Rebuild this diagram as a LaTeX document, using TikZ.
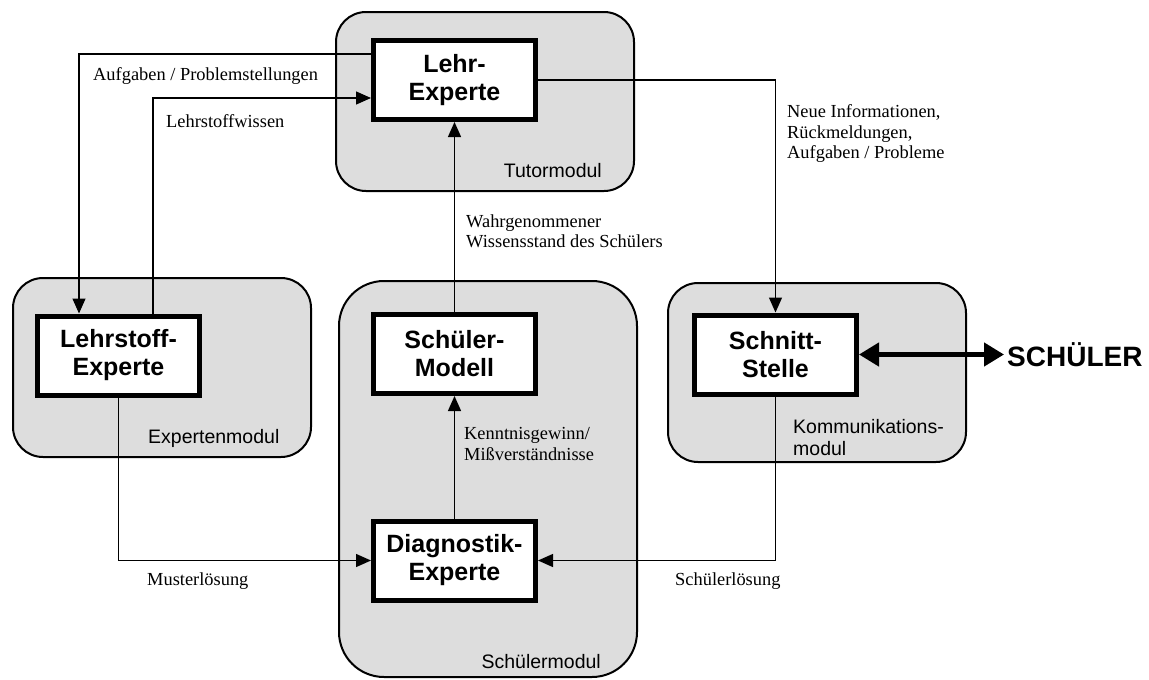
\documentclass[tikz,border=0pt]{standalone}
\usepackage{fontspec}
\setmainfont{Liberation Serif}
\setsansfont{Liberation Sans}
\usetikzlibrary{arrows.meta}
\definecolor{modgray}{RGB}{221,221,221}
\tikzset{
  module/.style={draw, line width=2pt, fill=modgray, rounded corners=30pt,
    inner sep=0pt, minimum width=298pt, minimum height=179pt},
  expert/.style={draw, line width=5pt, fill=white, inner sep=0pt,
    minimum width=162pt, minimum height=79pt, align=center,
    font=\sffamily\bfseries\fontsize{25}{28}\selectfont},
  modlabel/.style={inner sep=0pt, font=\sffamily\fontsize{19.5}{22}\selectfont},
  flowlabel/.style={inner sep=0pt, align=left, font=\rmfamily\fontsize{18.4}{20.5}\selectfont},
  conn/.style={line width=1.3pt},
  flow/.style={conn, -{Triangle[length=15pt,width=13pt]}},
  bothway/.style={line width=4.5pt, {Triangle[length=20pt,width=23pt]}-{Triangle[length=20pt,width=23pt]}}
}
\begin{document}
\begin{tikzpicture}[x=1pt,y=-1pt]
\useasboundingbox (0,0) rectangle (1149,680);

% module containers
\node[module] (tutor) at (485,101.5) {};
\node[module] (expmod) at (162,367.5) {};
\node[module, minimum height=396pt, rounded corners=45pt] (stumod) at (488,479) {};
\node[module] (kommod) at (817,372.5) {};

\node[modlabel, anchor=base east] (tutorlab) at (602,177) {Tutormodul};
\node[modlabel, anchor=base west] (explab) at (148,443) {Expertenmodul};
\node[modlabel, anchor=base east] (stulab) at (601,668) {Schülermodul};
\node[modlabel, anchor=north west, align=left] (komlab) at (793,419) {Kommunikations-\\modul};

% expert boxes
\node[expert] (le) at (454.5,80) {Lehr-\\Experte};
\node[expert] (lse) at (118.5,355.5) {Lehrstoff-\\Experte};
\node[expert] (smo) at (454.5,354) {Schüler-\\Modell};
\node[expert] (de) at (454.5,560.5) {Diagnostik-\\Experte};
\node[expert] (ss) at (775.5,354.5) {Schnitt-\\Stelle};

\node[inner sep=3pt, anchor=west, font=\sffamily\bfseries\fontsize{28}{32}\selectfont] (sch) at (1004,354.5) {SCHÜLER};

% connectors
\draw[flow] ([yshift=26pt]le.west) -| ([xshift=-39.5pt]lse.north);
\draw[flow] ([xshift=34.5pt]lse.north) |- ([yshift=-18pt]le.west);
\draw[flow] (le.east) -| (ss.north);
\draw[flow] (smo.north) -- (le.south);
\draw[flow] (de.north) -- (smo.south);
\draw[flow] (lse.south) |- (de.west);
\draw[flow] (ss.south) |- (de.east);
\draw[bothway] (ss.east) -- (sch.west);

% connector labels
\node[flowlabel, anchor=base west] (l1) at (93,80) {Aufgaben / Problemstellungen};
\node[flowlabel, anchor=base west] (l2) at (166,127) {Lehrstoffwissen};
\node[flowlabel, anchor=north west] (l3) at (787,104.4) {Neue Informationen,\\Rückmeldungen,\\Aufgaben / Probleme};
\node[flowlabel, anchor=north west] (l4) at (466,214.4) {Wahrgenommener\\Wissensstand des Schülers};
\node[flowlabel, anchor=north west] (l5) at (464,427.4) {Kenntnisgewinn/\\Mißverständnisse};
\node[flowlabel, anchor=base west] (l6) at (147,585) {Musterlösung};
\node[flowlabel, anchor=base west] (l7) at (675,585) {Schülerlösung};
\end{tikzpicture}
\end{document}
